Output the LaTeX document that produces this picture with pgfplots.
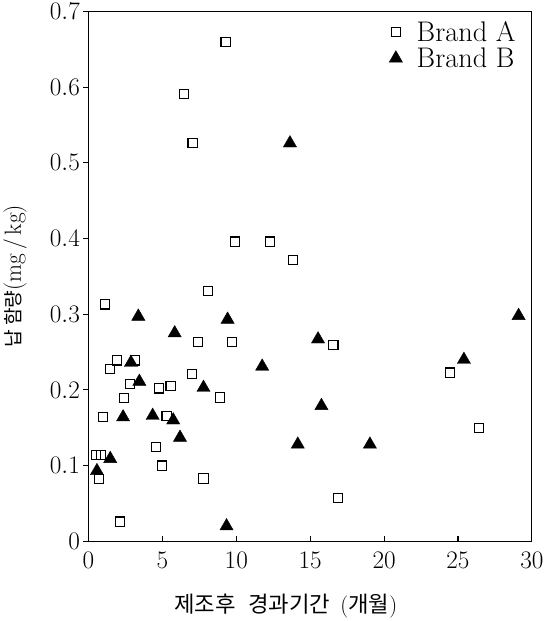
\documentclass[border=0pt]{standalone}
\usepackage{fontspec}
\newfontfamily\kr{Noto Sans CJK KR}
\usepackage{pgfplots}
\pgfplotsset{compat=1.18}

\begin{document}
\begin{tikzpicture}
\begin{axis}[
  scale only axis, width=436bp, height=521bp,
  xmin=0, xmax=30, ymin=0, ymax=0.7,
  xtick={0,5,10,15,20,25,30},
  ytick={0,0.1,0.2,0.3,0.4,0.5,0.6,0.7},
  yticklabel style={/pgf/number format/fixed},
  xtick pos=bottom, ytick pos=left,
  xtick align=inside, ytick align=outside,
  major tick length=5bp,
  tick style={black, line width=1bp},
  axis line style={line width=1.2bp},
  tick label style={font=\fontsize{28}{30}\selectfont},
  xticklabel style={yshift=-7bp},
  xlabel={{\kr 제조후}\hspace{12bp}{\kr 경과기간}\hspace{10bp}({\kr 개월})},
  ylabel={{\kr\fontsize{19}{22}\selectfont 납 함량}(mg\,/\,kg)},
  xlabel style={font=\fontsize{22}{24}\selectfont, yshift=-18bp, xshift=-24bp},
  ylabel style={font=\fontsize{23}{24}\selectfont, yshift=16bp},
  legend style={draw=none, fill=none, at={(0.975,0.99)}, anchor=north east,
    font=\fontsize{28}{30}\selectfont, row sep=1bp,
    /tikz/every odd column/.append style={column sep=12bp}},
  legend cell align=left,
  clip=false
]
\addplot[only marks, mark=square, mark size=4.5bp, mark options={black, line width=1.1pt}] coordinates {
(9.27,0.660)(6.47,0.591)(7.04,0.526)(9.93,0.396)(12.27,0.396)(13.85,0.372)
(8.07,0.331)(1.12,0.313)(16.57,0.259)(24.48,0.223)(26.43,0.150)(16.86,0.057)
(7.43,0.263)(9.73,0.263)(1.93,0.239)(3.14,0.239)(1.47,0.228)(2.80,0.208)
(7.00,0.221)(4.75,0.202)(5.55,0.205)(8.88,0.190)(2.41,0.189)(0.96,0.164)
(5.28,0.166)(4.56,0.125)(0.50,0.114)(0.85,0.114)(4.98,0.100)(0.69,0.082)
(7.78,0.083)(2.11,0.026)};
\addlegendentry{Brand A}
\addplot[only marks, mark=triangle*, mark size=7.5bp, mark options={black, fill=black}] coordinates {
(13.63,0.526)(29.10,0.298)(15.53,0.267)(11.75,0.231)(25.40,0.240)(15.76,0.179)
(14.16,0.128)(19.04,0.128)(3.37,0.297)(9.41,0.293)(5.83,0.275)(2.87,0.236)
(3.44,0.211)(7.78,0.203)(2.34,0.164)(4.34,0.166)(5.73,0.160)(6.19,0.137)
(1.47,0.109)(0.57,0.093)(9.34,0.020)};
\addlegendentry{Brand B}
\end{axis}
\end{tikzpicture}
\end{document}
